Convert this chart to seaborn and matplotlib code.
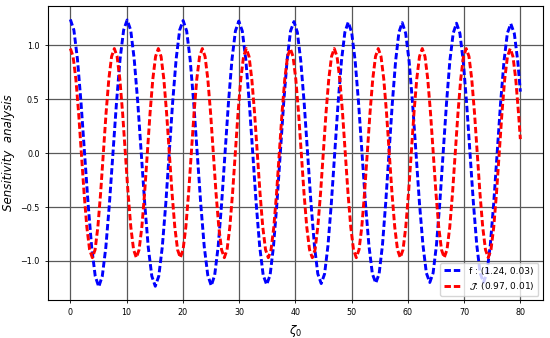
import pandas as pd
import matplotlib
matplotlib.use("Agg")
import matplotlib.pyplot as plt
import seaborn as sns

# blue curve f : values (peaks/troughs and points between them)
f_x = [0, 0.63, 1.26, 1.89, 2.53, 3.16, 3.79, 4.42, 5.05,
       5.68, 6.31, 6.94, 7.58, 8.21, 8.84, 9.47, 10.1,
       10.73, 11.35, 11.98, 12.6, 13.23, 13.85, 14.48, 15.1,
       15.72, 16.34, 16.96, 17.58, 18.19, 18.81, 19.43, 20.05,
       20.68, 21.3, 21.93, 22.55, 23.18, 23.8, 24.43, 25.05,
       25.66, 26.28, 26.89, 27.5, 28.11, 28.73, 29.34, 29.95,
       30.57, 31.19, 31.81, 32.43, 33.04, 33.66, 34.28, 34.9,
       35.51, 36.11, 36.72, 37.33, 37.93, 38.54, 39.14, 39.75,
       40.36, 40.96, 41.57, 42.18, 42.78, 43.39, 43.99, 44.6,
       45.2, 45.8, 46.4, 47.0, 47.6, 48.2, 48.8, 49.4,
       50.01, 50.63, 51.24, 51.85, 52.46, 53.08, 53.69, 54.3,
       54.89, 55.48, 56.06, 56.65, 57.24, 57.83, 58.41, 59.0,
       59.61, 60.23, 60.84, 61.45, 62.06, 62.68, 63.29, 63.9,
       64.49, 65.09, 65.68, 66.28, 66.87, 67.46, 68.06, 68.65,
       69.25, 69.85, 70.45, 71.05, 71.65, 72.25, 72.85, 73.45,
       74.06, 74.66, 75.27, 75.88, 76.48, 77.09, 77.69, 78.3,
       78.93, 79.55, 80.0]
f_y = [1.24, 1.141, 0.873, 0.473, 0, -0.473, -0.873, -1.141, -1.24,
       -1.141, -0.873, -0.473, 0, 0.473, 0.873, 1.141, 1.235,
       1.141, 0.873, 0.473, 0, -0.473, -0.873, -1.141, -1.235,
       -1.141, -0.873, -0.473, 0, 0.473, 0.873, 1.141, 1.23,
       1.132, 0.866, 0.469, 0, -0.469, -0.866, -1.132, -1.23,
       -1.132, -0.866, -0.469, 0, 0.469, 0.866, 1.132, 1.225,
       1.132, 0.866, 0.469, 0, -0.469, -0.866, -1.132, -1.22,
       -1.132, -0.866, -0.469, 0, 0.469, 0.866, 1.132, 1.22,
       1.12, 0.857, 0.464, 0, -0.464, -0.857, -1.12, -1.21,
       -1.12, -0.857, -0.464, 0, 0.464, 0.857, 1.12, 1.215,
       1.12, 0.857, 0.464, 0, -0.464, -0.857, -1.12, -1.205,
       -1.12, -0.857, -0.464, 0, 0.464, 0.857, 1.12, 1.21,
       1.112, 0.851, 0.461, 0, -0.461, -0.851, -1.112, -1.2,
       -1.112, -0.851, -0.461, 0, 0.461, 0.851, 1.112, 1.205,
       1.112, 0.851, 0.461, 0, -0.461, -0.851, -1.112, -1.2,
       -1.112, -0.851, -0.461, 0, 0.461, 0.851, 1.112, 1.2,
       1.109, 0.848, 0.57]

# red curve J
j_x = [0, 0.49, 0.98, 1.47, 1.96, 2.44, 2.93, 3.42, 3.91, 4.40, 4.89, 5.38, 5.87, 6.35, 6.84, 7.33,
       7.82, 8.31, 8.80, 9.29, 9.78, 10.26, 10.75, 11.24, 11.73, 12.22, 12.71, 13.20, 13.69, 14.17, 14.66, 15.15,
       15.64, 16.13, 16.62, 17.11, 17.60, 18.08, 18.57, 19.06, 19.55, 20.04, 20.53, 21.02, 21.51, 21.99, 22.48, 22.97,
       23.46, 23.95, 24.44, 24.93, 25.42, 25.90, 26.39, 26.88, 27.37, 27.86, 28.35, 28.84, 29.33, 29.81, 30.30, 30.79,
       31.28, 31.77, 32.26, 32.75, 33.24, 33.72, 34.21, 34.70, 35.19, 35.68, 36.17, 36.66, 37.15, 37.63, 38.12, 38.61,
       39.10, 39.59, 40.08, 40.57, 41.06, 41.54, 42.03, 42.52, 43.01, 43.50, 43.99, 44.48, 44.97, 45.45, 45.94, 46.43,
       46.92, 47.41, 47.90, 48.39, 48.88, 49.36, 49.85, 50.34, 50.83, 51.32, 51.81, 52.30, 52.79, 53.27, 53.76, 54.25,
       54.74, 55.23, 55.72, 56.21, 56.70, 57.18, 57.67, 58.16, 58.65, 59.14, 59.63, 60.12, 60.61, 61.09, 61.58, 62.07,
       62.56, 63.05, 63.54, 64.03, 64.52, 65.00, 65.49, 65.98, 66.47, 66.96, 67.45, 67.94, 68.43, 68.91, 69.40, 69.89,
       70.38, 70.87, 71.36, 71.85, 72.34, 72.82, 73.31, 73.80, 74.29, 74.78, 75.27, 75.76, 76.25, 76.73, 77.22, 77.71,
       78.20, 78.69, 79.18, 79.67, 80.0]
j_y = [0.97, 0.896, 0.686, 0.372, 0, -0.372, -0.686, -0.896, -0.97, -0.896, -0.686, -0.372, 0, 0.372, 0.686, 0.896,
       0.97, 0.896, 0.686, 0.372, 0, -0.372, -0.686, -0.896, -0.97, -0.896, -0.686, -0.372, 0, 0.372, 0.686, 0.896,
       0.97, 0.896, 0.686, 0.372, 0, -0.372, -0.686, -0.896, -0.97, -0.896, -0.686, -0.372, 0, 0.372, 0.686, 0.896,
       0.97, 0.896, 0.686, 0.372, 0, -0.372, -0.686, -0.896, -0.97, -0.896, -0.686, -0.372, 0, 0.372, 0.686, 0.896,
       0.97, 0.896, 0.686, 0.372, 0, -0.372, -0.686, -0.896, -0.97, -0.896, -0.686, -0.372, 0, 0.372, 0.686, 0.896,
       0.97, 0.896, 0.686, 0.372, 0, -0.372, -0.686, -0.896, -0.97, -0.896, -0.686, -0.372, 0, 0.372, 0.686, 0.896,
       0.97, 0.896, 0.686, 0.372, 0, -0.372, -0.686, -0.896, -0.97, -0.896, -0.686, -0.372, 0, 0.372, 0.686, 0.896,
       0.97, 0.896, 0.686, 0.372, 0, -0.372, -0.686, -0.896, -0.97, -0.896, -0.686, -0.372, 0, 0.372, 0.686, 0.896,
       0.97, 0.896, 0.686, 0.372, 0, -0.372, -0.686, -0.896, -0.97, -0.896, -0.686, -0.372, 0, 0.372, 0.686, 0.896,
       0.97, 0.896, 0.686, 0.372, 0, -0.372, -0.686, -0.896, -0.97, -0.896, -0.686, -0.372, 0, 0.372, 0.686, 0.896,
       0.97, 0.896, 0.686, 0.372, 0.13]

f_label = "f : (1.24, 0.03)"
j_label = r"$\mathcal{J}$: (0.97, 0.01)"

df_f = pd.DataFrame({"zeta": f_x, "val": f_y})
df_j = pd.DataFrame({"zeta": j_x, "val": j_y})

plt.rcParams["lines.dashed_pattern"] = [2.2, 1.0]

fig, ax = plt.subplots(figsize=(5.5, 3.38), dpi=100)
sns.lineplot(data=df_f, x="zeta", y="val", color="blue", linestyle="--", linewidth=2.1,
             estimator=None, label=f_label, ax=ax)
sns.lineplot(data=df_j, x="zeta", y="val", color="red", linestyle="--", linewidth=2.1,
             estimator=None, label=j_label, ax=ax)

ax.grid(True, color="0.35", linewidth=0.9)
ax.set_xticks([0, 10, 20, 30, 40, 50, 60, 70, 80])
ax.set_yticks([-1.0, -0.5, 0.0, 0.5, 1.0])
ax.tick_params(labelsize=5.8, length=2.5, width=0.6)
ax.set_xlabel(r"$\zeta_0$", fontsize=8.5)
ax.set_ylabel("Sensitivity  analysis", fontsize=8.5, style="italic")
ax.legend(loc="lower right", fontsize=6.5, handlelength=2.0)

plt.subplots_adjust(left=0.087, right=0.987, top=0.982, bottom=0.112)
plt.savefig("out.png", dpi=100)
